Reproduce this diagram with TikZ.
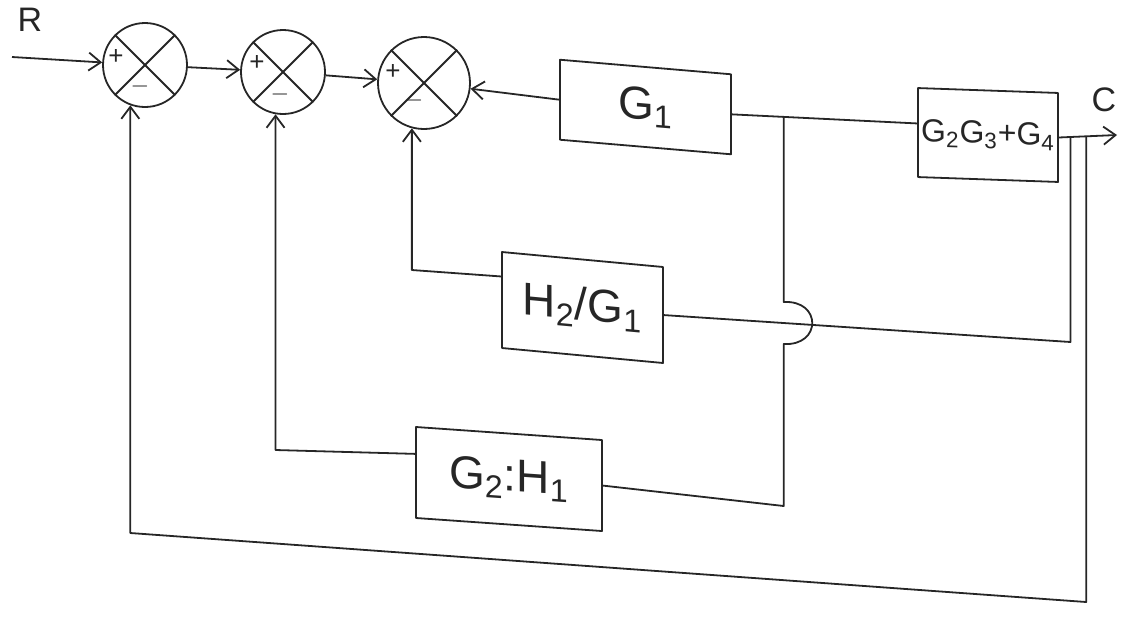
\documentclass[tikz,border=0pt]{standalone}
\usepackage{fontspec}
\setmainfont{Liberation Sans}
\usetikzlibrary{arrows.meta,calc}
\begin{document}
\begin{tikzpicture}[x=0.5pt,y=-0.5pt,
  line width=0.9pt, color=black!85, line join=round,
  sumnode/.style={circle,draw,minimum size=#1,inner sep=0pt},
  blk/.style={draw,inner sep=0pt},
  sig/.style={-{Straight Barb[length=6pt,width=9pt]}},
  lbl/.style={font=\fontsize{23}{25}\selectfont},
  sgn/.style={font=\fontsize{13}{14}\selectfont,inner sep=0pt},
]
\useasboundingbox (0,0) rectangle (1127,618);

% summing junctions
\node[sumnode=42pt] (s1) at (145,65) {};
\node[sumnode=42pt] (s2) at (283,72) {};
\node[sumnode=46pt] (s3) at (424,83) {};
\foreach \s in {s1,s2,s3}{
  \draw (\s.north west) -- (\s.south east);
  \draw (\s.north east) -- (\s.south west);
}
\node[sgn] (p1) at ($(s1)+(-29,-8)$) {+};
\node[sgn] (m1) at ($(s1)+(-5,21)$) {$-$};
\node[sgn] (p2) at ($(s2)+(-26,-9)$) {+};
\node[sgn] (m2) at ($(s2)+(-3,22)$) {$-$};
\node[sgn] (p3) at ($(s3)+(-31,-11)$) {+};
\node[sgn] (m3) at ($(s3)+(-10,17)$) {$-$};

% blocks
\node[blk,minimum width=85.5pt,minimum height=40pt,yslant=-0.085,lbl] (g1) at (645.5,107) {G\textsubscript{1}};
\node[blk,minimum width=70pt,minimum height=44.5pt,yslant=-0.035,font=\fontsize{16}{18}\selectfont] (g234) at (988,135) {G\textsubscript{2}G\textsubscript{3}+G\textsubscript{4}};
\node[blk,minimum width=80.5pt,minimum height=48pt,yslant=-0.093,lbl] (h2g1) at (582.5,307.5) {H\textsubscript{2}/G\textsubscript{1}};
\node[blk,minimum width=93pt,minimum height=45.5pt,yslant=-0.07,lbl] (g2h1) at (509,479) {G\textsubscript{2}:H\textsubscript{1}};

% labels
\node[font=\fontsize{17}{18}\selectfont] (rl) at (30,20) {R};
\node[font=\fontsize{17}{18}\selectfont] (cl) at (1104,100) {C};

% helper coordinates
\coordinate (rin) at (12,57);
\coordinate (out) at (1117,135);
\coordinate (g234in) at ($(g234.north west)!0.4!(g234.south west)$);
\coordinate (b1) at ($(g1.east)!0.28!(g234in)$);
\coordinate (b2) at ($(g234.east)!0.2!(out)$);
\coordinate (b3) at ($(g234.east)!0.47!(out)$);
\coordinate (yc2) at (0,342);
\coordinate (c2) at (b2 |- yc2);
\coordinate (yj1) at (0,302);
\coordinate (yj2) at (0,344);
\coordinate (yc4) at (0,506);
\coordinate (j1) at (b1 |- yj1);
\coordinate (j2) at (b1 |- yj2);
\coordinate (c4) at (b1 |- yc4);
\coordinate (g2h1in) at ($(g2h1.north west)!0.3!(g2h1.south west)$);
\coordinate (h2g1in) at ($(h2g1.north west)!0.26!(h2g1.south west)$);
\coordinate (yc5) at (0,450);
\coordinate (c5) at (s2.260 |- yc5);
\coordinate (yc6) at (0,270);
\coordinate (c6) at (s3.255 |- yc6);
\coordinate (yc1) at (0,533);
\coordinate (yc3) at (0,602);
\coordinate (c1) at (s1.250 |- yc1);
\coordinate (c3) at (b3 |- yc3);

% forward path
\draw[sig] (rin) -- (s1);
\draw[sig] (s1) -- (s2);
\draw[sig] (s2) -- (s3);
\draw[sig] (g1.west) -- (s3);
\draw (g1.east) -- (g234in);
\draw[sig] (g234.east) -- (out);

% feedback paths
\draw (h2g1.east) -- (c2) -- (b2);
\draw (b1) -- (j1) .. controls +(38,-2) and +(38,2) .. (j2) -- (c4) -- (g2h1.east);
\draw[sig] (g2h1in) -- (c5) -- (s2.260);
\draw[sig] (h2g1in) -- (c6) -- (s3.255);
\draw[sig] (b3) -- (c3) -- (c1) -- (s1.250);
\end{tikzpicture}
\end{document}
